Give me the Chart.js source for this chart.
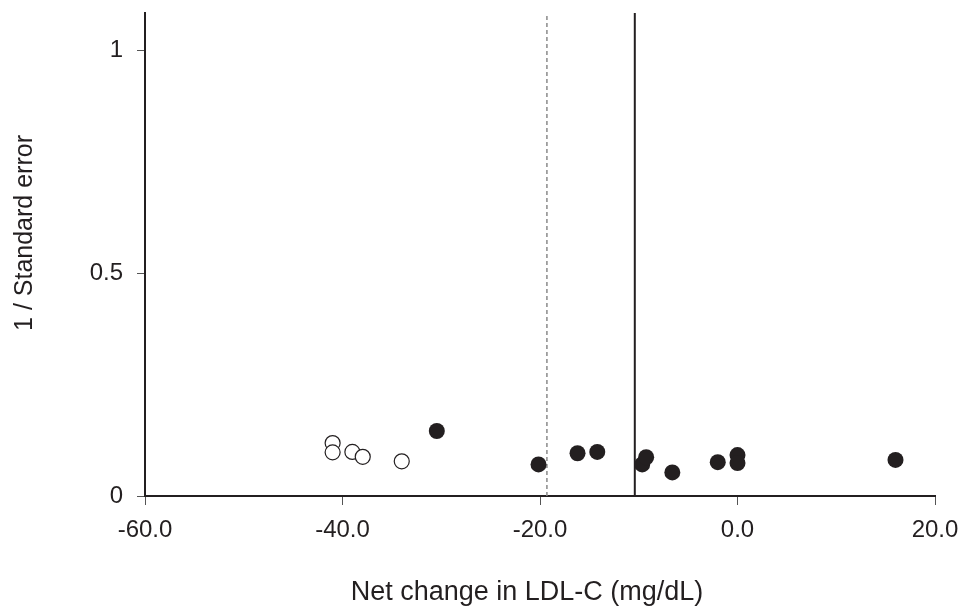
<!DOCTYPE html>
<html>
<head>
<meta charset="utf-8">
<script src="https://cdn.jsdelivr.net/npm/chart.js@4"></script>
<style>
  html, body { margin: 0; padding: 0; background: #fff; }
  #wrap { width: 959px; height: 606px; }
</style>
</head>
<body>
<div id="wrap"><canvas id="funnelChart" width="959" height="606"></canvas></div>
<script>
// Funnel plot: net change in LDL-C vs 1 / standard error
const openX = [-41.0, -41.0, -39.0, -37.95, -34.0];
const openY = [0.119, 0.098, 0.099, 0.088, 0.078];

const filledX = [-30.45, -20.15, -16.2, -14.2, -9.65, -9.25, -6.6, -2.0, 0.0, 0.0, 16.0];
const filledY = [0.146, 0.071, 0.096, 0.099, 0.071, 0.087, 0.053, 0.076, 0.092, 0.074, 0.081];

const pooledEstimate = -19.3;   // dashed line
const nullLine = -10.4;         // solid line
const yTop = 1.085;

const xTicks = [-60, -40, -20, 0, 20];
const yTicks = [0, 0.5, 1];
const yTickLabels = ['0', '0.5', '1'];

const xTitle = 'Net change in LDL-C (mg/dL)';
const yTitle = '1 / Standard error';

const ink = '#231f20';
const fontFamily = "'Liberation Sans', Arial, sans-serif";

function toPoints(xs, ys) {
    return xs.map(function(x, i) { return { x: x, y: ys[i] }; });
}

// axis titles sit slightly off-centre in the source figure, so draw them here
const axisTitlePlugin = {
    id: 'axisTitles',
    afterDraw: function(chart) {
        const c = chart.ctx;
        c.save();
        c.fillStyle = ink;
        c.textAlign = 'center';
        c.textBaseline = 'alphabetic';

        c.font = '27px ' + fontFamily;
        c.fillText(xTitle, 527, 600);

        c.translate(32, 233);
        c.rotate(-Math.PI / 2);
        c.font = '25px ' + fontFamily;
        c.fillText(yTitle, 0, 0);
        c.restore();
    }
};

new Chart(document.getElementById('funnelChart'), {
    type: 'scatter',
    data: {
        datasets: [
            {
                label: 'Open',
                data: toPoints(openX, openY),
                pointRadius: 7.5,
                pointBackgroundColor: '#ffffff',
                pointBorderColor: ink,
                pointBorderWidth: 1.2
            },
            {
                label: 'Filled',
                data: toPoints(filledX, filledY),
                pointRadius: 8,
                pointBackgroundColor: ink,
                pointBorderColor: ink,
                pointBorderWidth: 0
            },
            {
                type: 'line',
                label: 'Null',
                data: [{ x: nullLine, y: 0 }, { x: nullLine, y: yTop }],
                borderColor: ink,
                borderWidth: 2,
                pointRadius: 0
            },
            {
                type: 'line',
                label: 'Pooled',
                data: [{ x: pooledEstimate, y: 0 }, { x: pooledEstimate, y: yTop }],
                borderColor: '#8a8a8a',
                borderWidth: 1.5,
                borderDash: [4, 3],
                pointRadius: 0
            }
        ]
    },
    options: {
        responsive: false,
        animation: false,
        layout: {
            padding: { left: 0, top: 13, right: 24, bottom: 0 }
        },
        scales: {
            x: {
                type: 'linear',
                min: -60,
                max: 20,
                afterBuildTicks: function(scale) {
                    scale.ticks = xTicks.map(function(v) { return { value: v }; });
                },
                afterFit: function(scale) {
                    scale.height = 110;
                    scale.paddingLeft = 0;
                    scale.paddingRight = 0;
                },
                border: { display: true, color: ink, width: 2 },
                grid: {
                    display: true,
                    drawOnChartArea: false,
                    drawTicks: true,
                    tickLength: 9,
                    color: '#555',
                    lineWidth: 1
                },
                ticks: {
                    padding: 11,
                    color: ink,
                    font: { family: fontFamily, size: 24 },
                    maxRotation: 0,
                    callback: function(v) { return Number(v).toFixed(1); }
                },
                title: { display: false }
            },
            y: {
                type: 'linear',
                min: 0,
                max: yTop,
                afterBuildTicks: function(scale) {
                    scale.ticks = yTicks.map(function(v) { return { value: v }; });
                },
                afterFit: function(scale) {
                    scale.width = 145;
                    scale.paddingTop = 0;
                    scale.paddingBottom = 0;
                },
                border: { display: true, color: ink, width: 2 },
                grid: {
                    display: true,
                    drawOnChartArea: false,
                    drawTicks: true,
                    tickLength: 8,
                    color: '#555',
                    lineWidth: 1
                },
                ticks: {
                    padding: 14,
                    color: ink,
                    font: { family: fontFamily, size: 24 },
                    callback: function(v) {
                        const i = yTicks.indexOf(v);
                        return i >= 0 ? yTickLabels[i] : '';
                    }
                },
                title: { display: false }
            }
        },
        plugins: {
            legend: { display: false },
            tooltip: { enabled: false }
        }
    },
    plugins: [axisTitlePlugin]
});
</script>
</body>
</html>
